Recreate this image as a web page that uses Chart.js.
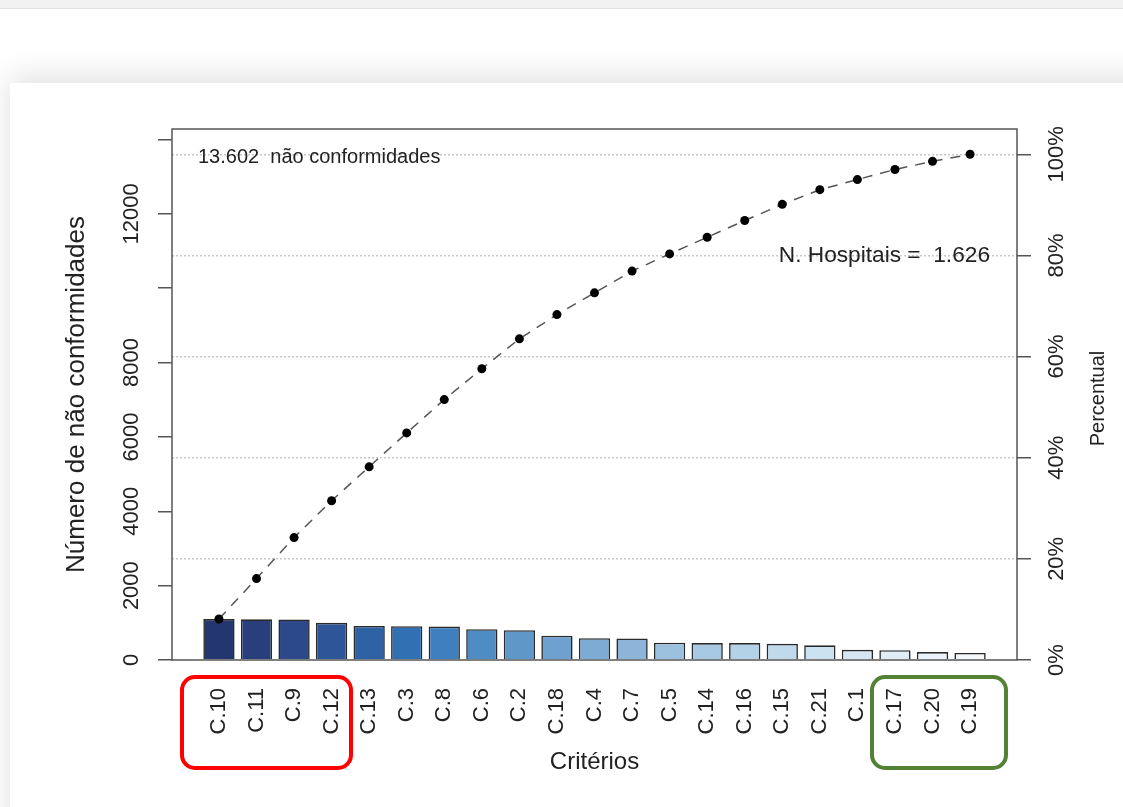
<!DOCTYPE html>
<html>
<head>
<meta charset="utf-8">
<script src="https://cdn.jsdelivr.net/npm/chart.js@4.4.0/dist/chart.umd.min.js"></script>
<style>
  body { margin: 0; width: 1123px; height: 807px; overflow: hidden; position: relative; background: #fff; }
  .topbar { position: absolute; left: 0; top: 0; width: 1123px; height: 8px; background: #f2f2f2; border-bottom: 1px solid #e3e3e3; }
  .card { position: absolute; left: 10px; top: 83px; width: 1140px; height: 760px; background: #fff; box-shadow: 0 -6px 30px rgba(0,0,0,0.13); }
  #chart { position: absolute; left: 10px; top: 83px; }
  .mark { position: absolute; border: 4px solid; border-radius: 15px; box-sizing: border-box; }
</style>
</head>
<body>
<div class="topbar"></div>
<div class="card"></div>
<canvas id="chart" width="1113" height="724"></canvas>
<div class="mark" style="left:180px; top:675px; width:173px; height:95px; border-color:#ff0000;"></div>
<div class="mark" style="left:870px; top:675px; width:138px; height:95px; border-color:#548235;"></div>
<script>
// dados
const criterios = ["C.10", "C.11", "C.9", "C.12", "C.13", "C.3", "C.8", "C.6", "C.2", "C.18", "C.4",
	"C.7", "C.5", "C.14", "C.16", "C.15", "C.21", "C.1", "C.17", "C.20", "C.19"];
const naoConformidades = [1100, 1095, 1090, 1000, 915, 910, 900, 830, 800, 655, 585,
	580, 465, 455, 455, 435, 395, 275, 262, 212, 188];
const percentualAcumulado = [8.1, 16.1, 24.2, 31.5, 38.2, 44.9, 51.5, 57.6, 63.5, 68.3, 72.6,
	76.9, 80.3, 83.6, 86.9, 90.1, 93.0, 95.0, 97.0, 98.6, 100];
const ticksContagem = [0, 2000, 4000, 6000, 8000, 10000, 12000, 14000];
const rotulosContagem = ["0", "2000", "4000", "6000", "8000", "", "12000", ""];
const ticksPercentual = [0, 20, 40, 60, 80, 100];
const totalNC = 13602;

// cores das barras (escuro -> claro)
const paleta = ["#243670", "#283f7c", "#2c4a89", "#2e5597", "#2f61a5", "#3170b3", "#3f7fbf",
	"#4f8cc4", "#5f97c9", "#6ea1cf", "#7eabd4", "#8db5d9", "#9cc1df", "#a7c9e3", "#b3d1e7",
	"#c0d9eb", "#cce2f0", "#d6e7f3", "#e0edf6", "#ebf3f9", "#f4f8fb"];

const FONTE = "'Liberation Sans', Arial, sans-serif";
const TEXTO = "#222";
Chart.defaults.font.family = FONTE;
Chart.defaults.color = TEXTO;

const extras = {
	id: "extras",
	afterDraw(chart) {
		const { ctx, chartArea: a } = chart;
		ctx.save();
		// caixa do gráfico
		ctx.strokeStyle = "#555";
		ctx.lineWidth = 1.5;
		ctx.strokeRect(a.left, a.top, a.right - a.left, a.bottom - a.top);

		ctx.fillStyle = TEXTO;
		ctx.textBaseline = "middle";
		ctx.font = "20px " + FONTE;
		ctx.textAlign = "left";
		ctx.fillText("13.602  não conformidades", a.left + 26, a.top + 28);

		ctx.font = "22.7px " + FONTE;
		ctx.textAlign = "right";
		ctx.fillText("N. Hospitais =  1.626", a.right - 27, chart.scales.y1.getPixelForValue(80));

		// título do eixo direito (lido de baixo para cima)
		ctx.translate(a.right + 81, (a.top + a.bottom) / 2 + 4);
		ctx.rotate(-Math.PI / 2);
		ctx.textAlign = "center";
		ctx.font = "20px " + FONTE;
		ctx.fillText("Percentual", 0, 0);
		ctx.restore();
	}
};

new Chart(document.getElementById("chart").getContext("2d"), {
	type: "bar",
	data: {
		datasets: [
			{
				type: "line",
				label: "Percentual acumulado",
				data: percentualAcumulado.map((v, i) => ({ x: i, y: v })),
				yAxisID: "y1",
				borderColor: "#555",
				borderWidth: 1.5,
				borderDash: [10, 8],
				pointRadius: 4.5,
				pointBackgroundColor: "#000",
				pointBorderWidth: 0,
				order: 1,
			},
			{
				label: "Não conformidades",
				data: naoConformidades.map((v, i) => ({ x: i, y: v })),
				yAxisID: "y",
				backgroundColor: paleta,
				borderColor: "#2a2a2a",
				borderWidth: 1.6,
				barPercentage: 0.833,
				categoryPercentage: 1,
				order: 2,
			},
		],
	},
	options: {
		responsive: false,
		animation: false,
		layout: { padding: { top: 46, left: 0, right: 0, bottom: 0 } },
		plugins: { legend: { display: false }, tooltip: { enabled: false } },
		scales: {
			x: {
				type: "linear",
				bounds: "data",
				offset: false,
				min: -1.25,
				max: 21.25,
				afterBuildTicks: (s) => { s.ticks = criterios.map((c, i) => ({ value: i })); },
				afterFit: (s) => { s.height = 147; },
				ticks: {
					autoSkip: false,
					minRotation: 90,
					maxRotation: 90,
					padding: 28,
					font: { size: 22 },
					callback: (v) => criterios[v],
				},
				grid: { display: false, drawTicks: false, offset: false },
				border: { display: false },
				title: { display: true, text: "Critérios", font: { size: 24 }, padding: { top: 0, bottom: 30.6 } },
			},
			y: {
				position: "left",
				min: 0,
				max: totalNC * 1.05,
				afterBuildTicks: (s) => { s.ticks = ticksContagem.map((v) => ({ value: v })); },
				afterFit: (s) => { s.width = 162; },
				ticks: {
					autoSkip: false,
					minRotation: 90,
					maxRotation: 90,
					crossAlign: "center",
					padding: -4.6,
					font: { size: 22 },
					callback: (v, i) => rotulosContagem[i],
				},
				grid: { drawOnChartArea: false, tickLength: 14, color: "#555", lineWidth: 1.5 },
				border: { display: false },
				title: { display: true, text: "Número de não conformidades", font: { size: 26 }, padding: { top: 51, bottom: 0 } },
			},
			y1: {
				position: "right",
				min: 0,
				max: 105,
				afterBuildTicks: (s) => { s.ticks = ticksPercentual.map((v) => ({ value: v })); },
				afterFit: (s) => { s.width = 106; },
				ticks: {
					autoSkip: false,
					minRotation: 90,
					maxRotation: 90,
					crossAlign: "center",
					padding: -2,
					font: { size: 22 },
					callback: (v) => v + "%",
				},
				grid: {
					drawOnChartArea: true,
					tickLength: 14,
					lineWidth: 1.5,
					color: (c) => (c.tick && c.tick.value === 0 ? "rgba(0,0,0,0)" : "#c8c8c8"),
					tickColor: "#555",
					tickWidth: 1.5,
				},
				border: { display: false, dash: [2, 2] },
			},
		},
	},
	plugins: [extras],
});
</script>
</body>
</html>
